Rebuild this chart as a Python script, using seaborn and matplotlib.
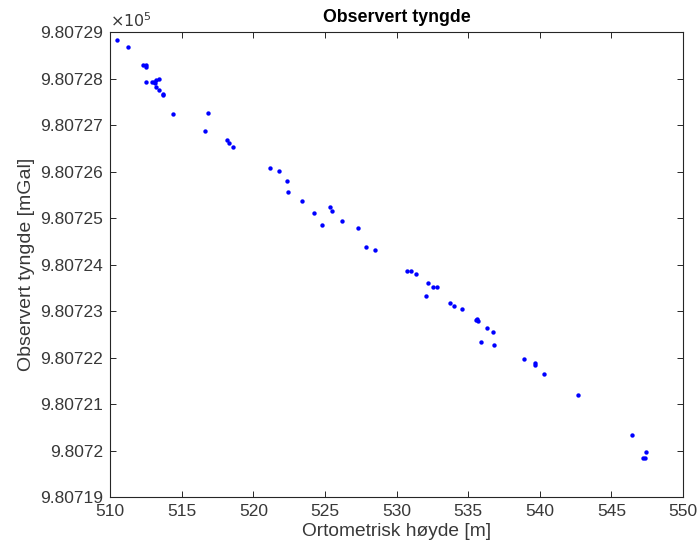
import matplotlib
matplotlib.use("Agg")
import matplotlib.pyplot as plt
import seaborn as sns
import pandas as pd
from matplotlib.ticker import FuncFormatter, MultipleLocator

hoyde = [510.49, 511.26, 512.30, 512.51, 512.51, 512.51, 512.95, 513.09, 513.21, 513.44,
         513.14, 513.21, 513.44, 513.68, 513.72, 514.42, 516.82, 516.63, 518.15, 518.33,
         518.61, 521.17, 521.78, 522.38, 522.40, 523.42, 524.22, 524.82, 525.34, 525.50,
         526.17, 527.29, 527.89, 528.52, 530.75, 530.99, 531.36, 532.18, 532.53, 532.81,
         532.06, 533.73, 534.01, 534.59, 535.62, 535.67, 535.57, 536.32, 536.76, 535.92,
         536.83, 538.88, 539.68, 539.68, 540.28, 542.69, 546.46, 547.39, 547.23, 547.37]
tyngde = [980728.83, 980728.68, 980728.29, 980728.29, 980728.25, 980727.93, 980727.93, 980727.93, 980727.97, 980727.99,
          980727.90, 980727.82, 980727.75, 980727.68, 980727.65, 980727.25, 980727.26, 980726.88, 980726.69, 980726.62,
          980726.52, 980726.08, 980726.02, 980725.80, 980725.57, 980725.37, 980725.11, 980724.86, 980725.25, 980725.16,
          980724.94, 980724.79, 980724.38, 980724.31, 980723.87, 980723.87, 980723.79, 980723.61, 980723.52, 980723.52,
          980723.33, 980723.17, 980723.12, 980723.04, 980722.84, 980722.79, 980722.81, 980722.63, 980722.55, 980722.34,
          980722.26, 980721.97, 980721.89, 980721.84, 980721.65, 980721.19, 980720.33, 980719.97, 980719.85, 980719.85]

title = "Observert tyngde"
xlabel = "Ortometrisk høyde [m]"
ylabel = "Observert tyngde [mGal]"

sns.set_theme(style="white")
plt.rcParams['font.family'] = ['Liberation Sans', 'DejaVu Sans']

df = pd.DataFrame({"h": hoyde, "g": tyngde})

fig = plt.figure(figsize=(6.97, 5.46), dpi=100)
ax = fig.add_axes([0.158, 0.0897, 0.822, 0.8513])
sns.scatterplot(data=df, x="h", y="g", ax=ax, color="#0000ff", s=10, linewidth=0, legend=False)

ax.set_xlim(510, 550)
ax.set_ylim(980719, 980729)
ax.xaxis.set_major_locator(MultipleLocator(5))
ax.yaxis.set_major_locator(MultipleLocator(1))
ax.yaxis.set_major_formatter(FuncFormatter(lambda v, p: "%.6g" % (v / 1e5)))

dark = "#262626"
txt = "#383838"
for s in ax.spines.values():
    s.set_color(dark)
    s.set_linewidth(0.8)
ax.tick_params(direction="in", top=True, right=True, length=4, width=0.7,
               colors=dark, labelsize=12.5, labelcolor=txt, pad=5,
               bottom=True, left=True)

ax.set_xlabel(xlabel, fontsize=13.8, color=txt, labelpad=3)
ax.set_ylabel(ylabel, fontsize=14, color=txt, labelpad=4)
ax.set_title(title, fontsize=12.8, fontweight="bold", color="black", pad=7)
ax.text(0.0, 1.005, r"$\times10^{5}$", transform=ax.transAxes, fontsize=11.5, color=txt,
        ha="left", va="bottom")

fig.savefig("out.png", dpi=100)
